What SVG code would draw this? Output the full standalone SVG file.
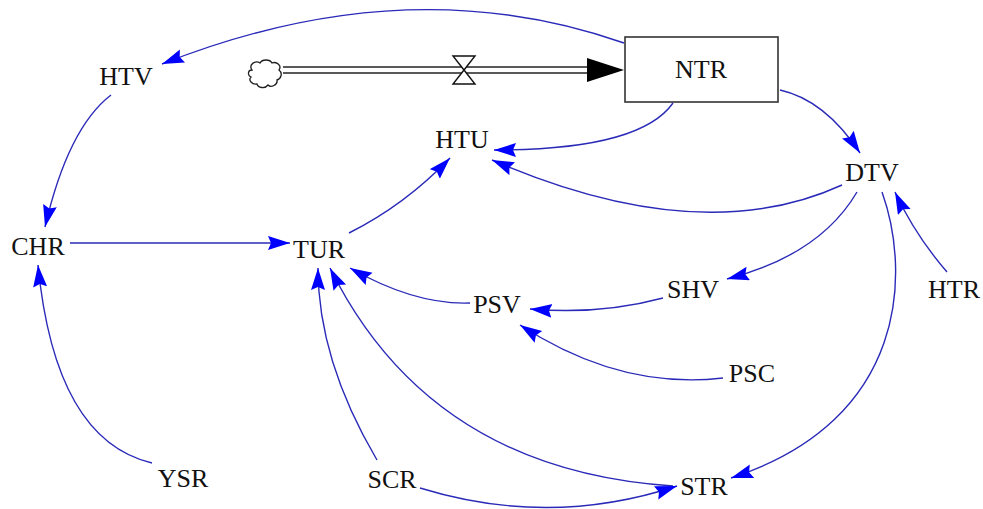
<svg xmlns="http://www.w3.org/2000/svg" width="983" height="509" viewBox="0 0 983 509">
<style>
text{font-family:"Liberation Serif","Times New Roman",serif;font-size:26px;fill:#111;text-anchor:middle}
.c{fill:none;stroke:#2a2ab8;stroke-width:1.4;marker-end:url(#ah)}
.pipe{stroke:#222;stroke-width:1.6;fill:none}
</style>
<defs>
<marker id="ah" markerUnits="userSpaceOnUse" markerWidth="24" markerHeight="16" refX="22" refY="7" orient="auto" viewBox="0 0 24 16">
<path d="M0,0 L22,7 L0,14 L3,7 Z" fill="#0000ff"/>
</marker>
</defs>
<rect width="983" height="509" fill="#fff"/>
<g id="connectors">
<path class="c" d="M624,43 Q407,-33 162,64"/>
<path class="c" d="M111,95 Q68,128 45,227"/>
<path class="c" d="M70,243 L290,243"/>
<path class="c" d="M152,463 Q55,440 38,265"/>
<path class="c" d="M349,233 Q405,205 450,158"/>
<path class="c" d="M673,103 Q640,150 494,150"/>
<path class="c" d="M842,185 Q700,250 492,160"/>
<path class="c" d="M780,90 Q825,100 860,153"/>
<path class="c" d="M857,192 Q820,255 727,279"/>
<path class="c" d="M882,192 C910,270 910,420 731,478"/>
<path class="c" d="M947,272 Q915,235 895,192"/>
<path class="c" d="M470,303 Q415,305 350,268"/>
<path class="c" d="M663,298 Q600,315 530,309"/>
<path class="c" d="M723,378 Q620,390 520,325"/>
<path class="c" d="M377,460 Q318,360 318,268"/>
<path class="c" d="M673,486 Q430,470 330,268"/>
<path class="c" d="M420,488 Q550,528 677,486"/>
</g>
<g id="flow">
<path d="M252,70 c-4,-6 4,-10 8,-7 c2,-4 10,-4 12,0 c5,-2 10,3 7,7 c4,3 2,9 -2,10 c1,5 -6,8 -9,5 c-3,4 -10,3 -11,-1 c-5,1 -9,-4 -6,-7 c-4,-2 -3,-7 1,-7 z" fill="#fff" stroke="#222" stroke-width="1.3"/>
<line class="pipe" x1="283" y1="67" x2="592" y2="67"/>
<line class="pipe" x1="283" y1="73" x2="592" y2="73"/>
<polygon points="587,58 624,70 587,82" fill="#000"/>
<path d="M453,56 L475,56 L464,70 Z M453,84 L475,84 L464,70 Z" fill="#fff" stroke="#111" stroke-width="1.4"/>
</g>
<g id="NTR">
<rect x="625" y="37" width="153" height="65" fill="#fff" stroke="#333" stroke-width="1.6"/>
<text x="701" y="78">NTR</text>
</g>
<g id="HTV"><text x="126" y="85">HTV</text></g>
<g id="HTU"><text x="462" y="148">HTU</text></g>
<g id="DTV"><text x="872" y="181">DTV</text></g>
<g id="CHR"><text x="38" y="255">CHR</text></g>
<g id="TUR"><text x="319" y="258">TUR</text></g>
<g id="PSV"><text x="497" y="313">PSV</text></g>
<g id="SHV"><text x="693" y="298">SHV</text></g>
<g id="HTR"><text x="954" y="298">HTR</text></g>
<g id="PSC"><text x="752" y="382">PSC</text></g>
<g id="YSR"><text x="183" y="487">YSR</text></g>
<g id="SCR"><text x="392" y="488">SCR</text></g>
<g id="STR"><text x="704" y="495">STR</text></g>
</svg>
